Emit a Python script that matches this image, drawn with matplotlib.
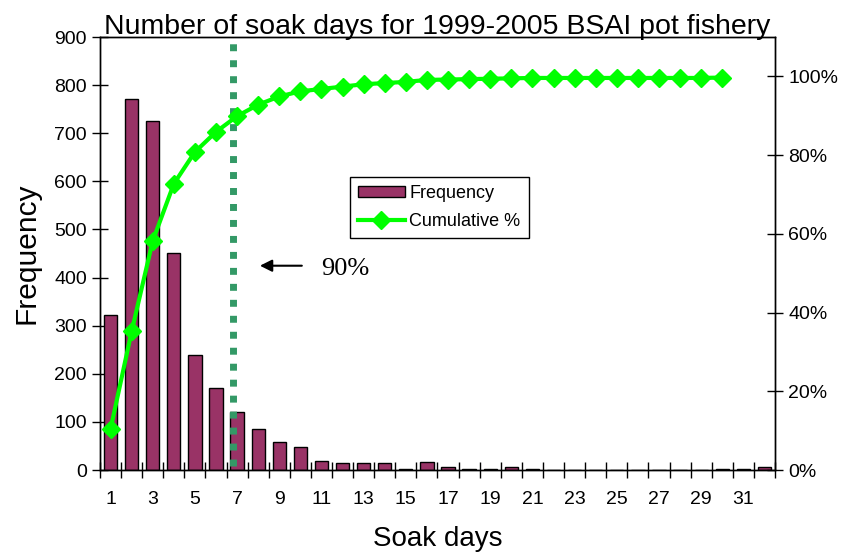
import numpy as np
import matplotlib.pyplot as plt
from matplotlib.ticker import FixedLocator, PercentFormatter

plt.rcParams['font.family'] = ['Liberation Sans', 'DejaVu Sans']

# --- Data ---
days = np.arange(1, 33)
frequency = [323, 772, 726, 451, 240, 170, 121, 85, 59, 47, 19, 15, 15, 15, 3, 16,
             7, 3, 3, 7, 3, 0, 0, 0, 0, 0, 0, 0, 0, 3, 3, 7]
cum_days = np.arange(1, 31)
cumulative = [10.4, 35.2, 58.2, 72.7, 80.8, 85.9, 89.9, 92.8, 94.9, 96.2,
              96.8, 97.4, 98.0, 98.3, 98.6, 99.1, 99.2, 99.3, 99.4, 99.5,
              99.6, 99.6, 99.6, 99.6, 99.6, 99.6, 99.6, 99.6, 99.6, 99.7]
cutoff_day = 6.8  # position of the 90% marker line
xtick_labels = list(range(1, 32, 2))

BAR_COLOR = '#993366'
LINE_COLOR = '#00ff00'
CUT_COLOR = '#339966'

fig = plt.figure(figsize=(8.41, 5.54), dpi=100)
ax = fig.add_axes([0.1189, 0.1516, 0.8026, 0.7816])

ax.bar(days, frequency, width=0.63, color=BAR_COLOR, edgecolor='black',
       linewidth=1.0, label='Frequency', zorder=2)
ax.axvline(cutoff_day, ymin=0.01, ymax=0.99, color=CUT_COLOR, linewidth=5,
           linestyle=(0, (1.0, 1.3)), zorder=3)

ax.set_xlim(0.5, 32.5)
ax.set_ylim(0, 900)
ax.set_yticks(np.arange(0, 901, 100))
ax.xaxis.set_major_locator(FixedLocator(xtick_labels))
ax.set_xticklabels([str(v) for v in xtick_labels])
ax.xaxis.set_minor_locator(FixedLocator(np.arange(0.5, 33, 1)))
ax.tick_params(axis='x', which='major', length=0, pad=15, labelsize=14)
ax.tick_params(axis='x', which='minor', length=11, direction='inout', width=1)
ax.tick_params(axis='y', length=11, direction='inout', width=1, pad=4,
               labelsize=14)
for s in ax.spines.values():
    s.set_linewidth(1.0)
    s.set_color('black')

ax.set_ylabel('Frequency', fontsize=21.5, labelpad=10)
ax.set_xlabel('Soak days', fontsize=20, labelpad=13)
ax.text(0.5, 1.008, 'Number of soak days for 1999-2005 BSAI pot fishery',
        transform=ax.transAxes, ha='center', va='baseline', fontsize=20.5)

ax2 = ax.twinx()
ax2.plot(cum_days, np.array(cumulative) / 100, color=LINE_COLOR, linewidth=3,
         marker='D', markersize=9, label='Cumulative %', zorder=4)
ax2.set_ylim(0, 1.1)
ax2.set_yticks(np.arange(0, 1.01, 0.2))
ax2.yaxis.set_major_formatter(PercentFormatter(1.0, decimals=0))
ax2.tick_params(axis='y', length=11, direction='inout', width=1, pad=4,
                labelsize=14)
for s in ax2.spines.values():
    s.set_linewidth(1.0)
    s.set_color('black')

# 90% annotation
ax2.annotate('', xy=(7.95, 0.519), xytext=(10.2, 0.519),
             arrowprops=dict(arrowstyle='-|>', color='black', lw=1.5,
                             mutation_scale=18))
ax2.text(11.0, 0.511, '90%', fontsize=19, family=['Liberation Serif', 'DejaVu Serif'],
         va='center', ha='left')

h1, l1 = ax.get_legend_handles_labels()
h2, l2 = ax2.get_legend_handles_labels()
leg = ax2.legend(h1 + h2, l1 + l2, loc='upper left', bbox_to_anchor=(0.37, 0.677),
                 borderaxespad=0, fancybox=False, framealpha=1, edgecolor='black',
                 fontsize=13, handlelength=2.6, handleheight=0.6, borderpad=0.45,
                 labelspacing=0.6, handletextpad=0.25)
leg.get_frame().set_linewidth(1.0)

fig.savefig('out.png', dpi=100)
